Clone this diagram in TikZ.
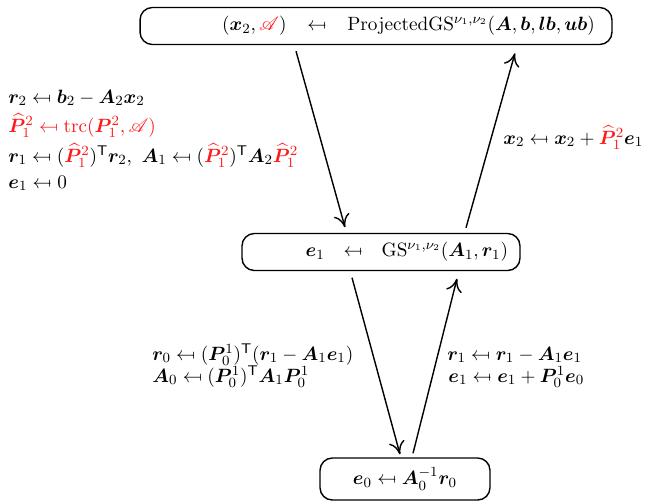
\documentclass[tikz,border=0pt]{standalone}
\usepackage{amsmath,amssymb,bm,stmaryrd,mathrsfs}
\usetikzlibrary{arrows.meta,positioning,calc}
\definecolor{hatred}{HTML}{FF1A1A}
\tikzset{
  levelbox/.style={draw,thick,rounded corners=7pt,inner ysep=0pt,minimum height=0.74cm},
  steplabel/.style={anchor=base west,inner sep=0pt},
  flow/.style={thick,-{To[length=2.6mm,width=3.2mm]}}
}
\newcommand{\Phat}{\widehat{\bm{P}}}
\newcommand{\Pred}{\textcolor{hatred}{\Phat^{2}_{1}}}

\begin{document}
\begin{tikzpicture}[x=0.02cm,y=-0.02cm,font=\fontsize{11pt}{13pt}\selectfont]
  \useasboundingbox (0,0) rectangle (665,501);

  % the three levels
  \node[levelbox,inner xsep=0.34cm,text width=8.76cm,align=right] (top) at (376,26)
    {$(\bm{x}_2,\textcolor{hatred}{\mathscr{A}})\ \mapsfrom\ \mathrm{ProjectedGS}^{\nu_1,\nu_2}(\bm{A},\bm{b},\bm{lb},\bm{ub})$};
  \node[levelbox,inner xsep=0.24cm,text width=5.08cm,align=right] (mid) at (381,252)
    {$\bm{e}_1\ \mapsfrom\ \mathrm{GS}^{\nu_1,\nu_2}(\bm{A}_1,\bm{r}_1)$};
  \node[levelbox,minimum width=3.4cm,minimum height=0.84cm] (bot) at (405,479)
    {$\bm{e}_0\mapsfrom \bm{A}_0^{-1}\bm{r}_0$};

  \draw[flow] ([xshift=-1.6cm,yshift=-0.12cm]top.south) -- ([xshift=-0.72cm,yshift=0.11cm]mid.north);
  \draw[flow] ([xshift=1.7cm,yshift=0.1cm]mid.north) -- ([xshift=2.78cm,yshift=-0.16cm]top.south);
  \draw[flow] ([xshift=-0.58cm,yshift=-0.13cm]mid.south) -- ([xshift=-0.1cm,yshift=0.06cm]bot.north);
  \draw[flow] ([xshift=0.16cm,yshift=0.08cm]bot.north) -- ([xshift=1.52cm,yshift=-0.15cm]mid.south);

  % restriction to level 1
  \node[steplabel] (rtwo) at (8,103) {$\bm{r}_2\mapsfrom\bm{b}_2-\bm{A}_2\bm{x}_2$};
  \node[steplabel,text=hatred] (trunc) at (8,132)
    {$\Phat^{2}_{1}\mapsfrom\operatorname{trc}(\bm{P}^{2}_{1},\mathscr{A})$};
  \node[steplabel] (rone) at (8,162)
    {$\bm{r}_1\mapsfrom(\Pred)^{\mathsf{T}}\bm{r}_2,\ \bm{A}_1\mapsfrom(\Pred)^{\mathsf{T}}\bm{A}_2\Pred$};
  \node[steplabel] (ezero) at (8,188) {$\bm{e}_1\mapsfrom 0$};

  % prolongation to level 2
  \node[steplabel] (xup) at (503,144) {$\bm{x}_2\mapsfrom\bm{x}_2+\Pred\bm{e}_1$};

  % restriction to level 0
  \node[steplabel] (rzero) at (152,360)
    {$\bm{r}_0\mapsfrom(\bm{P}^{1}_{0})^{\mathsf{T}}(\bm{r}_1-\bm{A}_1\bm{e}_1)$};
  \node[steplabel] (azero) at (152,382)
    {$\bm{A}_0\mapsfrom(\bm{P}^{1}_{0})^{\mathsf{T}}\bm{A}_1\bm{P}^{1}_{0}$};

  % prolongation to level 1
  \node[steplabel] (rupd) at (447,360) {$\bm{r}_1\mapsfrom\bm{r}_1-\bm{A}_1\bm{e}_1$};
  \node[steplabel] (eupd) at (448,382) {$\bm{e}_1\mapsfrom\bm{e}_1+\bm{P}^{1}_{0}\bm{e}_0$};
\end{tikzpicture}
\end{document}
